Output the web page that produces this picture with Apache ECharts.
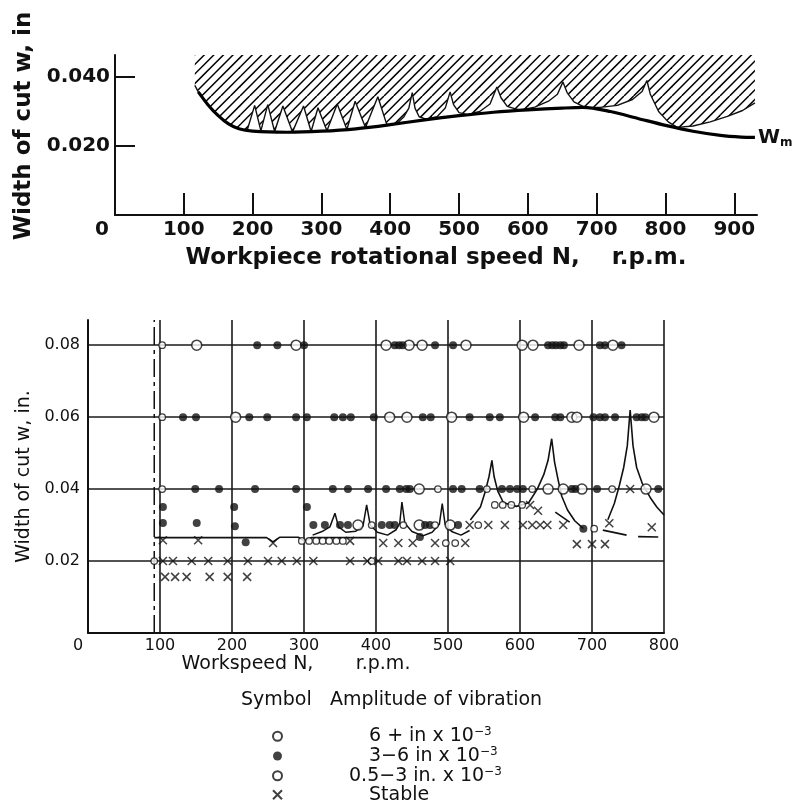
<!DOCTYPE html>
<html>
<head>
<meta charset="utf-8">
<script src="https://cdn.jsdelivr.net/npm/echarts@6/dist/echarts.min.js"></script>
<style>
  html, body { margin: 0; padding: 0; background: #fff; }
  #chart { width: 796px; height: 805px; }
</style>
</head>
<body>
<div id="chart"></div>
<script>
// ---------- Upper plot: stability chart vs workpiece speed ----------
const topXTicks = [100, 200, 300, 400, 500, 600, 700, 800, 900];
const topXLabels = [0, 100, 200, 300, 400, 500, 600, 700, 800, 900];
const topYTicks = [0.02, 0.04];

// limiting width of cut W_m (rpm, in)
const wmCurve = [
  [121, 0.0357], [135, 0.0320], [150, 0.0288], [165, 0.0264], [180, 0.0250],
  [200, 0.0243], [250, 0.0240], [300, 0.0243], [350, 0.0250], [400, 0.0262],
  [450, 0.0276], [500, 0.0288], [550, 0.0298], [600, 0.0305], [650, 0.0310],
  [680, 0.0312], [720, 0.0300], [760, 0.0280], [800, 0.0260], [840, 0.0243],
  [880, 0.0231], [910, 0.0226], [930, 0.0225]
];

// lower edge of the unstable (hatched) region: lobes meeting at cusps
const lobeEnvelope = [
  [116, 0.0376], [121, 0.0357], [135, 0.0320], [150, 0.0288], [165, 0.0264], [180, 0.0250], [192, 0.0245],
  [203, 0.0318], [212, 0.0244], [222, 0.0320], [232, 0.0242], [244, 0.0316], [258, 0.0241],
  [274, 0.0316], [285, 0.0242], [295, 0.0311], [308, 0.0244], [323, 0.0322], [337, 0.0248],
  [349, 0.0330], [364, 0.0254], [382, 0.0343], [395, 0.0262], [410, 0.0266],
  [420, 0.0285], [427, 0.0310], [432, 0.0355], [436, 0.0310], [442, 0.0285], [452, 0.0278],
  [468, 0.0285], [480, 0.0310], [487, 0.0357], [492, 0.0320], [500, 0.0297], [512, 0.0291],
  [530, 0.0300], [545, 0.0322], [555, 0.0371], [561, 0.0340], [570, 0.0315], [588, 0.0304],
  [610, 0.0313], [630, 0.0330], [643, 0.0350], [651, 0.0386], [657, 0.0355], [667, 0.0328], [683, 0.0312],
  [705, 0.0312], [730, 0.0318], [752, 0.0335], [766, 0.0358], [773, 0.0390], [778, 0.0350],
  [790, 0.0300], [804, 0.0270], [817, 0.0254],
  [840, 0.0258], [865, 0.0270], [890, 0.0286], [912, 0.0303], [930, 0.0325]
];

// ---------- Lower plot: measured cuts vs workspeed ----------
const lowXLabels = [0, 100, 200, 300, 400, 500, 600, 700, 800];
const lowYLabels = [0.02, 0.04, 0.06, 0.08];

// amplitude 6+ in x 10^-3 (large open circles)
const ampHigh = [
  [151, 0.08], [289, 0.08], [414, 0.08], [446, 0.08], [464, 0.08], [525, 0.08], [603, 0.08], [618, 0.08], [682, 0.08], [729, 0.08],
  [205, 0.06], [419, 0.06], [443, 0.06], [505, 0.06], [605, 0.06], [672, 0.06], [679, 0.06], [786, 0.06],
  [460, 0.04], [639, 0.04], [660, 0.04], [686, 0.04], [775, 0.04],
  [375, 0.030], [460, 0.030], [503, 0.030]
];

// amplitude 3-6 in x 10^-3 (filled dots)
const ampMid = [
  [235, 0.08], [263, 0.08], [300, 0.08], [426, 0.08], [432, 0.08], [437, 0.08], [482, 0.08], [507, 0.08],
  [639, 0.08], [645, 0.08], [650, 0.08], [656, 0.08], [661, 0.08], [711, 0.08], [718, 0.08], [741, 0.08],
  [132, 0.06], [150, 0.06], [224, 0.06], [249, 0.06], [289, 0.06], [304, 0.06], [342, 0.06], [354, 0.06],
  [365, 0.06], [397, 0.06], [465, 0.06], [476, 0.06], [530, 0.06], [558, 0.06], [572, 0.06], [621, 0.06],
  [649, 0.06], [656, 0.06], [702, 0.06], [711, 0.06], [718, 0.06], [732, 0.06], [762, 0.06], [769, 0.06], [774, 0.06],
  [149, 0.04], [182, 0.04], [232, 0.04], [289, 0.04], [340, 0.04], [361, 0.04], [389, 0.04], [414, 0.04],
  [433, 0.04], [442, 0.04], [447, 0.04], [507, 0.04], [519, 0.04], [544, 0.04], [575, 0.04], [586, 0.04],
  [596, 0.04], [604, 0.04], [672, 0.04], [677, 0.04], [707, 0.04], [792, 0.04],
  [104, 0.035], [104, 0.0306], [151, 0.0306], [203, 0.035], [204, 0.0297], [219, 0.0252],
  [304, 0.035], [313, 0.030], [329, 0.030], [350, 0.030], [361, 0.030], [408, 0.030], [419, 0.030],
  [426, 0.030], [468, 0.030], [475, 0.030], [514, 0.030], [461, 0.0267], [688, 0.029]
];

// amplitude 0.5-3 in x 10^-3 (small open circles)
const ampLow = [
  [103, 0.08], [103, 0.06], [103, 0.04], [92, 0.02], [394, 0.02],
  [486, 0.04], [554, 0.04], [617, 0.04], [728, 0.04],
  [297, 0.0256], [307, 0.0256], [317, 0.0256], [326, 0.0256], [335, 0.0256], [345, 0.0256], [354, 0.0256],
  [394, 0.030], [438, 0.030], [482, 0.030], [497, 0.025], [510, 0.025], [542, 0.030],
  [565, 0.0356], [576, 0.0356], [588, 0.0356], [603, 0.0356], [703, 0.029]
];

// stable cuts (crosses)
const stable = [
  [104, 0.02], [118, 0.02], [144, 0.02], [167, 0.02], [194, 0.02], [222, 0.02], [250, 0.02], [269, 0.02],
  [290, 0.02], [313, 0.02], [364, 0.02], [388, 0.02], [403, 0.02], [431, 0.02], [443, 0.02], [464, 0.02],
  [482, 0.02], [503, 0.02],
  [107, 0.0156], [121, 0.0156], [137, 0.0156], [169, 0.0156], [194, 0.0156], [221, 0.0156],
  [104, 0.0258], [153, 0.0258], [257, 0.025], [364, 0.0256], [410, 0.025], [431, 0.025], [451, 0.025],
  [482, 0.025], [524, 0.025], [530, 0.030], [556, 0.030], [579, 0.030], [604, 0.030], [617, 0.030],
  [628, 0.030], [638, 0.030], [660, 0.030], [724, 0.0305], [783, 0.0294], [679, 0.0247], [700, 0.0247],
  [718, 0.0247], [753, 0.040], [614, 0.0356], [625, 0.034]
];

// boundary lines
const flatBoundary = [[92, 0.0265], [248, 0.0265], [257, 0.0253], [266, 0.0266], [292, 0.0266], [300, 0.0256], [310, 0.0265], [400, 0.0265]];
const smallLobes = [
  [312, 0.0272], [325, 0.0282], [336, 0.0295], [343, 0.0333], [348, 0.0295], [358, 0.0280], [372, 0.0283],
  [382, 0.0298], [387, 0.0356], [392, 0.0300], [402, 0.0280], [416, 0.0272], [428, 0.0287], [433, 0.0305],
  [436, 0.0364], [440, 0.0305], [450, 0.0282], [465, 0.0270], [478, 0.0280], [488, 0.0302], [492, 0.0360],
  [496, 0.0302], [505, 0.0282], [518, 0.0272], [530, 0.0285]
];
const bigLobes = [
  [531, 0.0314], [545, 0.0350], [552, 0.0395], [557, 0.0435], [561, 0.0480], [564, 0.0435], [569, 0.0395],
  [577, 0.0362], [595, 0.0352], [612, 0.0362], [624, 0.0400], [633, 0.0440], [639, 0.0480], [644, 0.0540],
  [648, 0.0475], [653, 0.0425], [658, 0.0380], [666, 0.0342], [676, 0.0312], [688, 0.0290],
  [700, null],
  [722, 0.0315], [731, 0.0360], [738, 0.0410], [744, 0.0460], [749, 0.0520], [753, 0.0620], [757, 0.0520],
  [762, 0.0460], [770, 0.0415], [781, 0.0376], [790, 0.0350], [800, 0.0328]
];
const dashedLower = [[649, 0.0336], [669, 0.0308], [690, null], [715, 0.0286], [748, 0.0272], [756, null], [764, 0.0268], [792, 0.0267]];
const minSpeedLine = [[92, 0], [92, 0.087]];

// legend text
const ampNames = ['6 + in x 10\u22123', '3\u22126 in x 10\u22123', '0.5\u22123 in. x 10\u22123', 'Stable'];
const ampBase = ['6 + in x 10', '3\u22126 in x 10', '0.5\u22123 in. x 10', 'Stable'];
const ampExp = ['\u22123', '\u22123', '\u22123', ''];
const legendHeader = 'Symbol   Amplitude of vibration';

const FONT = "'DejaVu Sans', sans-serif";
const INK = '#111';

// diagonal hatch tile for the unstable region
function hatchTile() {
  const s = 48;
  const c = document.createElement('canvas');
  c.width = s; c.height = s;
  const g = c.getContext('2d');
  g.strokeStyle = '#000';
  g.lineWidth = 1.5;
  for (let k = -6; k <= 11; k++) {
    const o = k * 9.6;
    g.beginPath();
    g.moveTo(o, s);
    g.lineTo(o + s, 0);
    g.stroke();
  }
  return c;
}

const chart = echarts.init(document.getElementById('chart'), null, { renderer: 'canvas' });

const lowScatterBase = { type: 'scatter', xAxisIndex: 1, yAxisIndex: 1, z: 5, silent: true };

chart.setOption({
  animation: false,
  backgroundColor: '#fff',
  textStyle: { fontFamily: FONT, color: INK },
  title: {
    text: legendHeader,
    left: 241, top: 691, padding: 0,
    textStyle: { fontFamily: FONT, fontSize: 19, fontWeight: 'normal', color: INK }
  },
  legend: {
    orient: 'vertical',
    left: 272, top: 726, height: 100, padding: 0,
    itemWidth: 9, itemHeight: 9, itemGap: 0,
    selectedMode: false,
    data: ampNames,
    formatter: function (name) {
      const i = ampNames.indexOf(name);
      const key = i === 2 ? 't2' : 't';
      return '{' + key + '|' + ampBase[i] + '}' + (ampExp[i] ? '{s|' + ampExp[i] + '}' : '');
    },
    textStyle: {
      fontFamily: FONT, color: INK,
      rich: {
        t: { fontFamily: FONT, fontSize: 19, lineHeight: 20.5, color: INK, padding: [0, 0, 0, 82] },
        t2: { fontFamily: FONT, fontSize: 19, lineHeight: 20.5, color: INK, padding: [0, 0, 0, 62] },
        s: { fontFamily: FONT, fontSize: 12, lineHeight: 8, color: INK, verticalAlign: 'top' }
      }
    }
  },
  grid: [
    { left: 115, top: 55, width: 642, height: 160 },
    { left: 88, top: 320, width: 576, height: 313 }
  ],
  xAxis: [
    {
      type: 'value', gridIndex: 0, min: 0, max: 933,
      axisLine: { lineStyle: { color: INK, width: 2 } },
      axisTick: { show: true, inside: true, length: 22, customValues: topXTicks, lineStyle: { color: INK, width: 2 } },
      axisLabel: {
        customValues: topXLabels, fontSize: 20, fontWeight: 'bold', margin: 5, color: INK, fontFamily: FONT,
        formatter: v => v === 0 ? '{z|0}' : String(v),
        rich: { z: { fontSize: 20, fontWeight: 'bold', fontFamily: FONT, color: INK, padding: [0, 26, 0, 0] } }
      },
      splitLine: { show: false },
      name: 'Workpiece rotational speed N,    r.p.m.',
      nameLocation: 'middle', nameGap: 32,
      nameTextStyle: { fontSize: 23, fontWeight: 'bold', fontFamily: FONT, color: INK }
    },
    {
      type: 'value', gridIndex: 1, min: 0, max: 800, interval: 100,
      axisLine: { lineStyle: { color: INK, width: 2 } },
      axisTick: { show: false },
      axisLabel: {
        fontSize: 16, margin: 5, color: INK, fontFamily: FONT,
        formatter: v => v === 0 ? '{z|0}' : String(v),
        rich: { z: { fontSize: 16, fontFamily: FONT, color: INK, padding: [0, 20, 0, 0] } }
      },
      splitLine: { show: true, lineStyle: { color: '#1a1a1a', width: 1.6 } },
      name: 'Workspeed N,       r.p.m.',
      nameLocation: 'middle', nameGap: 20,
      nameTextStyle: { fontSize: 19, fontFamily: FONT, color: INK, padding: [0, 160, 0, 0] }
    }
  ],
  yAxis: [
    {
      type: 'value', gridIndex: 0, min: 0, max: 0.0464, interval: 0.02,
      axisLine: { show: true, lineStyle: { color: INK, width: 2 } },
      axisTick: { show: true, inside: true, length: 20, customValues: topYTicks, lineStyle: { color: INK, width: 2 } },
      axisLabel: {
        customValues: topYTicks, fontSize: 20, fontWeight: 'bold', margin: 5, color: INK, fontFamily: FONT,
        formatter: v => v.toFixed(3)
      },
      splitLine: { show: false },
      name: 'Width of cut w, in',
      nameLocation: 'middle', nameGap: 76, nameRotate: 90,
      nameTextStyle: { fontSize: 23, fontWeight: 'bold', fontFamily: FONT, color: INK, padding: [0, 0, 0, 18] }
    },
    {
      type: 'value', gridIndex: 1, min: 0, max: 0.087, interval: 0.02,
      axisLine: { show: true, lineStyle: { color: INK, width: 2 } },
      axisTick: { show: false },
      axisLabel: {
        customValues: lowYLabels, fontSize: 16, margin: 8, color: INK, fontFamily: FONT,
        formatter: v => v.toFixed(2)
      },
      splitLine: { show: true, showMinLine: false, showMaxLine: false, lineStyle: { color: '#1a1a1a', width: 1.6 } },
      name: 'Width of cut w, in.',
      nameLocation: 'middle', nameGap: 54, nameRotate: 90,
      nameTextStyle: { fontSize: 19, fontFamily: FONT, color: INK }
    }
  ],
  series: [
    {
      name: 'unstable', type: 'line', xAxisIndex: 0, yAxisIndex: 0,
      data: lobeEnvelope, symbol: 'none', silent: true, z: 2,
      lineStyle: { color: '#111', width: 1.4 },
      areaStyle: { origin: 'end', color: { image: hatchTile(), repeat: 'repeat' }, opacity: 1 }
    },
    {
      name: 'Wm', type: 'line', xAxisIndex: 0, yAxisIndex: 0,
      data: wmCurve, symbol: 'none', silent: true, smooth: 0.3, z: 3,
      lineStyle: { color: '#000', width: 3.2 },
      endLabel: {
        show: true, distance: 3,
        formatter: '{w|W}{m|m}',
        rich: {
          w: { fontSize: 20, fontWeight: 'bold', fontFamily: FONT, color: INK, lineHeight: 22 },
          m: { fontSize: 12, fontWeight: 'bold', fontFamily: FONT, color: INK, lineHeight: 8, verticalAlign: 'bottom' }
        }
      }
    },
    {
      name: 'speed limit', type: 'line', xAxisIndex: 1, yAxisIndex: 1,
      data: minSpeedLine, symbol: 'none', silent: true, z: 3,
      lineStyle: { color: '#111', width: 1.5, type: [18, 5, 4, 5] }
    },
    {
      name: 'boundary', type: 'line', xAxisIndex: 1, yAxisIndex: 1,
      data: flatBoundary, symbol: 'none', silent: true, z: 3,
      lineStyle: { color: '#111', width: 1.6 }
    },
    {
      name: 'small lobes', type: 'line', xAxisIndex: 1, yAxisIndex: 1,
      data: smallLobes, symbol: 'none', silent: true, z: 3,
      lineStyle: { color: '#111', width: 1.5 }
    },
    {
      name: 'large lobes', type: 'line', xAxisIndex: 1, yAxisIndex: 1,
      data: bigLobes, symbol: 'none', silent: true, z: 3, connectNulls: false,
      lineStyle: { color: '#111', width: 1.6 }
    },
    {
      name: 'lower curve', type: 'line', xAxisIndex: 1, yAxisIndex: 1,
      data: dashedLower, symbol: 'none', silent: true, z: 3, connectNulls: false,
      lineStyle: { color: '#111', width: 1.6 }
    },
    Object.assign({}, lowScatterBase, {
      name: ampNames[0], data: ampHigh, symbol: 'circle', symbolSize: 10,
      itemStyle: { color: '#fff', borderColor: '#111', borderWidth: 1.5 }
    }),
    Object.assign({}, lowScatterBase, {
      name: ampNames[1], data: ampMid, symbol: 'circle', symbolSize: 8,
      itemStyle: { color: '#111', borderColor: '#111', borderWidth: 0 }
    }),
    Object.assign({}, lowScatterBase, {
      name: ampNames[2], data: ampLow, symbol: 'circle', symbolSize: 6.5,
      itemStyle: { color: '#fff', borderColor: '#111', borderWidth: 1.3 }
    }),
    Object.assign({}, lowScatterBase, {
      name: ampNames[3], data: stable, symbol: 'path://M0,0L10,10M10,0L0,10', symbolSize: 8,
      itemStyle: { color: 'rgba(0,0,0,0)', borderColor: '#111', borderWidth: 1.5 }
    })
  ]
});
</script>
</body>
</html>
